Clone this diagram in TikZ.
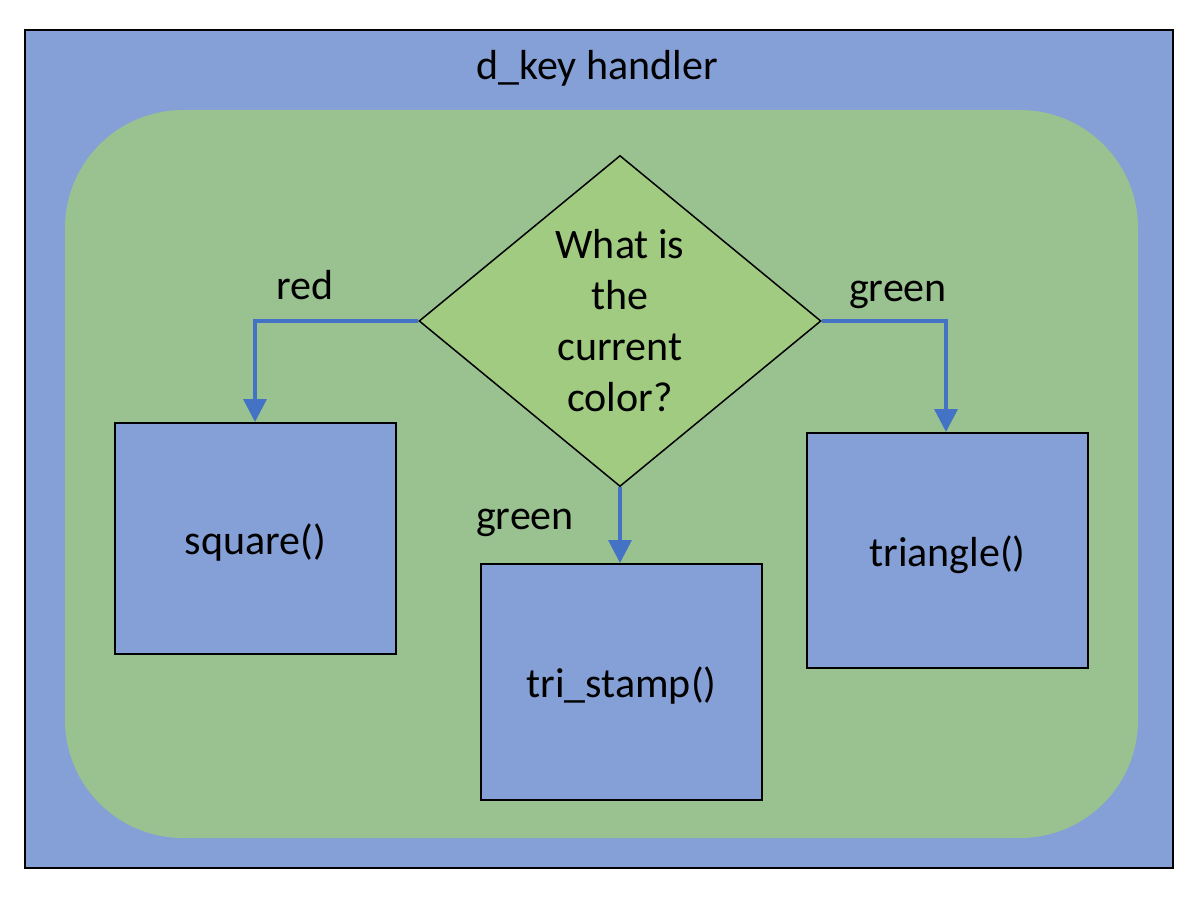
\documentclass[tikz,border=0pt]{standalone}
\usepackage{fontspec}
\setmainfont{Carlito}
\usetikzlibrary{shapes.geometric,arrows.meta}
\definecolor{panelblue}{HTML}{84A0D6}
\definecolor{panelgreen}{HTML}{9AC290}
\definecolor{diagreen}{HTML}{A0CB80}
\definecolor{arrowblue}{HTML}{4472C4}
\newcommand{\lowertxt}[1]{\raisebox{-2pt}[\height][\depth]{#1}}
\tikzset{
  funcbox/.style={draw=black, line width=1pt, fill=panelblue, minimum width=140.5pt, minimum height=115.5pt, inner sep=0pt, font=\fontsize{21}{25}\selectfont},
  decision/.style={diamond, draw=black, line width=0.75pt, fill=diagreen, minimum width=201pt, minimum height=165.5pt, inner sep=0pt, align=center, font=\fontsize{21}{25.5}\selectfont},
  flow/.style={draw=arrowblue, line width=1.75pt, -{Triangle[width=11.5pt,length=11.5pt]}},
  lbl/.style={inner sep=0pt, font=\fontsize{21}{25}\selectfont}
}
\begin{document}
\begin{tikzpicture}[x=0.5pt,y=-0.5pt]
\useasboundingbox (0,0) rectangle (1202,908);
\fill[white] (0,0) rectangle (1202,908);
\draw[line width=1pt, fill=panelblue] (25,30) rectangle (1173,868);
\fill[panelgreen, rounded corners=59pt] (65,110) rectangle (1138,838);
\node[lbl] (title) at (597,68) {d\_key handler};
\node[decision] (q) at (620,321) {What is\\the\\current\\color?};
\node[funcbox] (sq) at (255.5,538.5) {\lowertxt{square()}};
\node[funcbox, minimum height=118pt] (ts) at (621.5,682) {\lowertxt{tri\_stamp()}};
\node[funcbox, minimum height=117.5pt] (tr) at (947.5,550.5) {\lowertxt{triangle()}};
\coordinate (lc) at (255,321);
\coordinate (rc) at (946,321);
\draw[flow] (q.west) -- (lc) -- (lc |- sq.north);
\draw[flow] (q.east) -- (rc) -- (rc |- tr.north);
\draw[flow] (q.south) -- (q.south |- ts.north);
\node[lbl] (lred) at (305,285) {red};
\node[lbl] (lgr1) at (898,295) {green};
\node[lbl] (lgr2) at (525,523) {green};
\end{tikzpicture}
\end{document}
